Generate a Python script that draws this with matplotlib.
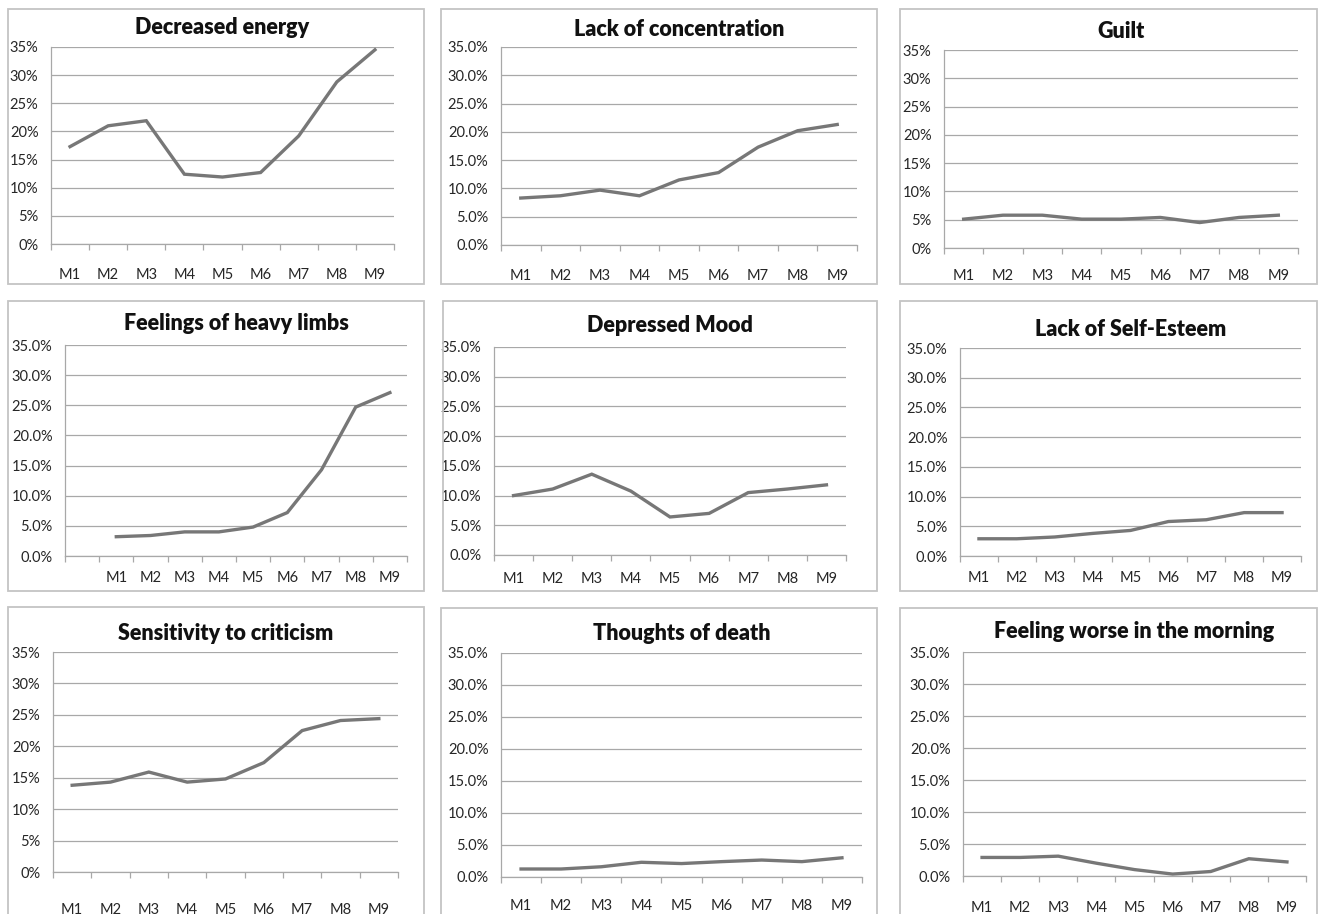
import matplotlib.pyplot as plt
from matplotlib.patches import Rectangle
from matplotlib.ticker import FuncFormatter

plt.rcParams['font.family'] = ['Lato', 'DejaVu Sans']

months = ["M1", "M2", "M3", "M4", "M5", "M6", "M7", "M8", "M9"]

titles = ["Decreased energy", "Lack of concentration", "Guilt",
          "Feelings of heavy limbs", "Depressed Mood", "Lack of Self-Esteem",
          "Sensitivity to criticism", "Thoughts of death", "Feeling worse in the morning"]

decreased_energy = [17.3, 21.0, 21.9, 12.4, 11.9, 12.7, 19.2, 28.8, 34.5]
lack_concentration = [8.3, 8.7, 9.7, 8.7, 11.5, 12.8, 17.3, 20.2, 21.3]
guilt = [5.1, 5.8, 5.8, 5.1, 5.1, 5.4, 4.5, 5.4, 5.8]
heavy_limbs = [3.2, 3.4, 4.0, 4.0, 4.8, 7.2, 14.3, 24.7, 27.1]
depressed_mood = [10.0, 11.1, 13.6, 10.75, 6.4, 7.0, 10.5, 11.1, 11.8]
self_esteem = [2.9, 2.9, 3.2, 3.8, 4.3, 5.8, 6.1, 7.3, 7.3]
sensitivity = [13.8, 14.3, 15.9, 14.3, 14.8, 17.4, 22.5, 24.1, 24.4]
thoughts_death = [1.25, 1.25, 1.6, 2.3, 2.1, 2.4, 2.65, 2.4, 3.0]
worse_morning = [2.9, 2.9, 3.1, 2.0, 1.0, 0.3, 0.7, 2.7, 2.2]

series = [decreased_energy, lack_concentration, guilt, heavy_limbs, depressed_mood,
          self_esteem, sensitivity, thoughts_death, worse_morning]
decimals = [0, 1, 0, 1, 1, 1, 0, 1, 1]
# heavy limbs chart has an empty first category slot
lead_blank = [0, 0, 0, 1, 0, 0, 0, 0, 0]

W, H = 1321, 914
# panel boxes (x0, y0, x1, y1) in pixels from top-left
boxes = [(8, 9, 424, 284), (441, 9, 877, 284), (900, 9, 1317, 284),
         (8, 301, 424, 591), (443, 301, 877, 591), (900, 301, 1317, 591),
         (8, 607, 424, 940), (441, 608, 877, 940), (900, 608, 1317, 940)]
# plot areas (x0, y_top, x1, y_bottom)
plots = [(51, 47, 394, 244), (501, 47, 857, 245), (944, 50, 1298, 248),
         (65, 345, 407, 556), (494, 347, 846, 555), (960, 348, 1301, 556),
         (53, 652, 398, 872), (501, 653, 862, 877), (963, 652, 1306, 876)]
title_y = [28, 30, 31, 323, 326, 329, 634, 633, 631]
label_gap = [17, 17, 15, 11, 12, 11, 22, 16, 18]

fig = plt.figure(figsize=(W / 100, H / 100), dpi=100)

line_col = "#777777"
grid_col = "#a8a8a8"
box_col = "#c4c4c4"

for i in range(9):
    bx0, by0, bx1, by1 = boxes[i]
    fig.patches.append(Rectangle((bx0 / W, 1 - by1 / H), (bx1 - bx0) / W, (by1 - by0) / H,
                                 transform=fig.transFigure, fill=False,
                                 edgecolor=box_col, linewidth=1.3))
    px0, py0, px1, py1 = plots[i]
    ax = fig.add_axes([px0 / W, 1 - py1 / H, (px1 - px0) / W, (py1 - py0) / H])

    n = len(months) + lead_blank[i]
    labels = [""] * lead_blank[i] + months
    xs = list(range(lead_blank[i], n))
    ax.plot(xs, series[i], color=line_col, linewidth=2.4, solid_joinstyle='miter')

    ax.set_xlim(-0.5, n - 0.5)
    ax.set_ylim(0, 35)
    ax.set_yticks(range(0, 36, 5))
    d = decimals[i]
    ax.yaxis.set_major_formatter(FuncFormatter(lambda v, p, d=d: f"{v:.{d}f}%"))
    ax.grid(axis='y', color=grid_col, linewidth=0.9)
    ax.set_axisbelow(True)

    ax.set_xticks([k - 0.5 for k in range(n + 1)], minor=False)
    ax.set_xticklabels([])
    ax.set_xticks(range(n), minor=True)
    ax.set_xticklabels(labels, minor=True)
    ax.tick_params(axis='x', which='major', length=4, width=0.9, color=grid_col, direction='out')
    ax.tick_params(axis='x', which='minor', length=0, pad=label_gap[i], labelsize=10.5,
                   labelcolor="#262626")
    ax.tick_params(axis='y', length=0, pad=9, labelsize=10.5, labelcolor="#262626")

    for s in ['top', 'right']:
        ax.spines[s].set_visible(False)
    for s in ['left', 'bottom']:
        ax.spines[s].set_color(grid_col)
        ax.spines[s].set_linewidth(0.9)

    fig.text((px0 + px1) / 2 / W, 1 - title_y[i] / H, titles[i], ha='center', va='center',
             fontsize=15.5, fontweight='heavy', color="#111111")

fig.savefig("out.png", dpi=100)
